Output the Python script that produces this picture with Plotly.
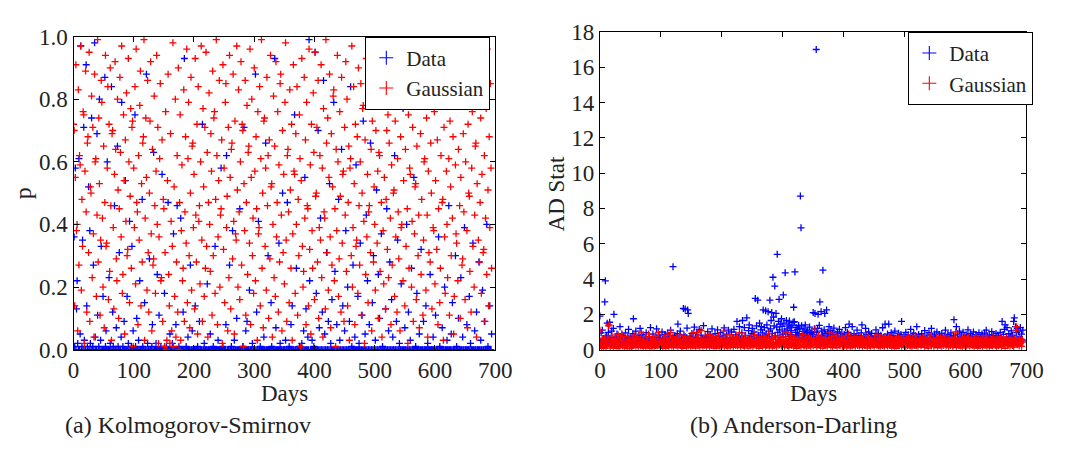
import plotly.graph_objects as go

# Kolmogorov-Smirnov p-values per day (in percent)
ks_data_pct = [
    0, 36, 1, 58, 0, 13, 22, 2, 0, 61, 0, 5, 97, 0, 1, 35, 0, 71, 3, 0, 0, 91, 14, 1, 0,
    52, 0, 38, 2, 0, 74, 0, 1, 27, 0, 98, 4, 0, 0, 69, 11, 0, 1, 80, 0, 3, 33, 0, 0, 17,
    0, 0, 87, 1, 6, 0, 60, 0, 0, 23, 0, 2, 0, 84, 0, 12, 1, 0, 46, 0, 0, 7, 0, 65, 1,
    0, 31, 0, 0, 4, 79, 0, 1, 0, 9, 0, 54, 0, 0, 17, 0, 2, 0, 41, 0, 0, 1, 33, 0, 6,
    0, 0, 75, 1, 0, 10, 0, 0, 3, 0, 22, 0, 0, 0, 48, 1, 0, 0, 15, 0, 0, 88, 0, 2, 0,
    0, 29, 0, 0, 0, 1, 8, 0, 63, 0, 0, 0, 2, 0, 24, 0, 0, 11, 0, 0, 1, 0, 56, 0, 0,
    0, 18, 0, 0, 1, 0, 0, 47, 0, 0, 5, 0, 0, 0, 2, 0, 37, 0, 0, 0, 8, 0, 46, 0, 0,
    1, 0, 0, 42, 0, 0, 0, 12, 0, 93, 0, 0, 1, 0, 0, 4, 0, 0, 0, 27, 0, 0, 6, 0, 0,
    0, 0, 14, 0, 0, 0, 1, 0, 0, 9, 0, 0, 0, 0, 72, 0, 0, 2, 0, 0, 0, 0, 21, 0, 0,
    0, 0, 5, 0, 0, 0, 0, 1, 0, 0, 33, 0, 0, 0, 0, 3, 0, 0, 0, 0, 58, 0, 0, 1, 0,
    0, 0, 0, 8, 62, 0, 0, 0, 0, 27, 0, 0, 1, 0, 38, 0, 0, 3, 0, 0, 0, 10, 0, 0, 0,
    0, 45, 0, 0, 0, 0, 1, 0, 71, 0, 0, 6, 0, 9, 0, 0, 0, 19, 0, 0, 0, 0, 2, 0, 0,
    0, 0, 88, 0, 12, 0, 0, 41, 0, 0, 1, 0, 0, 0, 0, 0, 4, 0, 0, 66, 0, 0, 0, 30, 0,
    0, 0, 0, 15, 1, 0, 0, 0, 0, 93, 0, 7, 0, 0, 0, 0, 34, 0, 2, 0, 0, 0, 50, 0, 0,
    0, 0, 3, 0, 0, 47, 0, 0, 1, 0, 0, 8, 0, 14, 0, 0, 0, 75, 0, 0, 26, 0, 0, 0, 0,
    1, 0, 0, 0, 2, 0, 0, 6, 0, 55, 0, 13, 0, 0, 4, 0, 99, 22, 0, 0, 0, 3, 0, 0, 1,
    0, 95, 0, 18, 0, 0, 70, 0, 7, 0, 42, 0, 0, 12, 0, 86, 0, 5, 0, 0, 31, 0, 0, 9, 0,
    53, 0, 2, 0, 16, 0, 0, 79, 0, 25, 0, 0, 8, 0, 0, 48, 0, 3, 0, 0, 64, 0, 14, 0, 0,
    6, 0, 38, 0, 0, 20, 0, 0, 9, 0, 84, 0, 1, 0, 27, 0, 0, 4, 0, 59, 0, 0, 17, 0, 2,
    0, 34, 0, 0, 11, 0, 73, 0, 0, 5, 0, 43, 0, 22, 0, 0, 8, 0, 66, 0, 0, 15, 0, 30, 0,
    0, 3, 0, 51, 0, 0, 24, 0, 10, 0, 0, 37, 0, 1, 0, 89, 0, 0, 13, 0, 45, 0, 0, 6, 0,
    28, 0, 0, 16, 0, 4, 0, 0, 62, 0, 0, 9, 0, 35, 0, 0, 2, 0, 0, 21, 0, 0, 77, 0, 0,
    7, 0, 0, 40, 0, 0, 12, 0, 0, 3, 0, 26, 0, 0, 0, 55, 0, 0, 1, 0, 18, 0, 0, 0, 5,
    0, 0, 32, 0, 0, 0, 9, 0, 0, 0, 14, 0, 0, 2, 0, 0, 0, 24, 0, 0, 0, 0, 4, 0, 0,
    0, 11, 0, 0, 0, 0, 36, 0, 1, 0, 0, 0, 7, 0, 0, 0, 20, 0, 0, 0, 3, 0, 0, 46, 0,
    0, 0, 5, 0, 15, 0, 0, 0, 0, 30, 0, 1, 0, 0, 10, 0, 0, 0, 23, 0, 0, 4, 0, 0, 39,
    0, 0, 0, 8, 0, 0, 0, 17, 0, 2, 0, 0, 0, 34, 0, 0, 6, 0, 0, 12, 0, 0, 0, 28, 0,
    0, 3, 0, 0, 19, 0, 0, 9, 0, 0, 0, 40, 0, 1, 0, 0, 14, 0, 0, 5,
]

ks_gauss_pct = [
    72, 70, 14, 55, 91, 38, 40, 6, 83, 27, 62, 59, 97, 19, 48, 33, 76, 75, 2, 57, 89, 44, 12, 66, 68,
    31, 95, 9, 52, 50, 81, 23, 71, 37, 4, 88, 60, 61, 17, 43, 99, 28, 74, 53, 11, 35, 86, 79, 42, 20,
    65, 7, 47, 94, 33, 34, 58, 84, 16, 72, 25, 90, 46, 3, 69, 70, 39, 13, 56, 92, 64, 29, 22, 80, 51,
    10, 45, 87, 63, 36, 97, 18, 24, 75, 54, 5, 67, 41, 82, 30, 32, 93, 60, 15, 49, 77, 26, 71, 73, 1,
    58, 39, 84, 21, 96, 47, 44, 8, 62, 35, 78, 89, 14, 53, 28, 66, 68, 99, 3, 42, 74, 55, 19, 86, 31,
    12, 50, 73, 92, 37, 6, 64, 27, 29, 81, 46, 18, 57, 94, 40, 71, 2, 36, 61, 85, 22, 23, 67, 9, 48,
    45, 1, 31, 76, 0, 3, 54, 88, 24, 14, 2, 69, 41, 6, 33, 98, 1, 52, 17, 80, 4, 28, 62, 12, 90,
    0, 47, 75, 3, 38, 59, 22, 26, 83, 9, 44, 68, 34, 96, 15, 61, 79, 30, 7, 50, 87, 19, 65, 66, 39,
    56, 13, 93, 43, 28, 72, 5, 84, 41, 46, 21, 60, 97, 35, 9, 77, 52, 17, 71, 26, 95, 33, 63, 4, 47,
    82, 40, 25, 69, 57, 11, 89, 30, 74, 76, 18, 48, 99, 62, 8, 36, 54, 86, 20, 43, 45, 67, 2, 91, 32,
    58, 15, 79, 85, 39, 49, 6, 71, 23, 94, 55, 13, 64, 66, 29, 88, 41, 5, 73, 37, 35, 97, 51, 20, 83,
    44, 16, 60, 92, 27, 72, 70, 1, 53, 38, 86, 11, 47, 78, 24, 63, 65, 34, 96, 8, 55, 80, 30, 42, 18,
    90, 57, 22, 68, 45, 3, 76, 37, 39, 84, 14, 61, 99, 26, 50, 7, 73, 74, 33, 58, 19, 87, 46, 62, 10,
    67, 29, 94, 52, 53, 4, 40, 81, 23, 65, 17, 92, 36, 47, 76, 12, 59, 28, 85, 88, 43, 6, 70, 31, 56,
    21, 79, 98, 35, 9, 62, 64, 44, 15, 83, 51, 26, 72, 3, 37, 91, 57, 56, 18, 69, 40, 84, 11, 48, 30,
    75, 61, 1, 54, 93, 33, 20, 25, 87, 42, 67, 8, 79, 46, 45, 14, 96, 32, 59, 5, 72, 38, 26, 82, 63,
    16, 95, 49, 50, 71, 28, 86, 10, 39, 62, 35, 91, 23, 58, 4, 77, 44, 42, 13, 99, 66, 31, 74, 19, 55,
    88, 36, 7, 69, 27, 52, 81, 83, 22, 45, 1, 64, 38, 94, 60, 17, 29, 76, 49, 12, 87, 34, 56, 57, 9,
    71, 43, 92, 25, 80, 14, 47, 65, 3, 58, 61, 30, 97, 20, 39, 84, 53, 8, 72, 33, 35, 68, 18, 90, 46,
    27, 60, 85, 11, 50, 77, 78, 41, 2, 67, 24, 93, 36, 56, 15, 44, 46, 82, 31, 64, 6, 73, 89, 28, 52,
    40, 19, 70, 96, 34, 57, 10, 63, 62, 25, 86, 47, 4, 79, 38, 21, 55, 91, 13, 48, 70, 32, 75, 23, 66,
    85, 42, 8, 59, 27, 99, 50, 51, 17, 73, 36, 90, 12, 61, 44, 29, 83, 6, 68, 39, 40, 95, 22, 54, 78,
    14, 64, 33, 87, 45, 2, 75, 26, 58, 56, 92, 20, 41, 71, 9, 80, 37, 52, 53, 16, 65, 97, 30, 43, 7,
    82, 69, 24, 48, 93, 11, 35, 60, 61, 88, 19, 74, 43, 4, 57, 31, 94, 28, 66, 50, 13, 85, 39, 38, 76,
    21, 54, 98, 32, 67, 8, 45, 79, 15, 26, 62, 89, 47, 48, 3, 71, 36, 18, 91, 57, 40, 23, 84, 61, 11,
    73, 52, 30, 95, 42, 68, 5, 17, 86, 59, 37, 34, 78, 22, 64, 97, 46, 10, 55, 81, 27, 29, 69, 44, 90,
    16, 60, 83, 38, 7, 72, 50, 49, 25, 93, 12, 58, 76, 33, 87, 20, 43, 65, 66, 4, 53, 80, 35, 99, 28,
    47, 74, 18, 56, 89, 31, 32, 62, 9, 42, 77, 24, 96, 51, 14, 68, 39, 85, 58, 26,
]

# Anderson-Darling statistic per day (in hundredths)
ad_data_cent = [
    190, 42, 95, 28, 110, 63, 35, 50, 270, 390, 22, 78, 150, 41, 98, 57, 155, 30, 66, 105, 45, 38, 120, 200, 55,
    33, 71, 26, 88, 47, 52, 19, 64, 130, 36, 58, 82, 29, 44, 70, 61, 24, 95, 40, 53, 32, 76, 115, 48, 27,
    66, 39, 57, 21, 90, 175, 45, 31, 72, 105, 35, 60, 43, 26, 80, 54, 120, 38, 49, 68, 23, 85, 46, 34, 62,
    30, 96, 51, 42, 25, 74, 63, 37, 125, 56, 28, 47, 88, 33, 60, 40, 22, 70, 118, 45, 53, 35, 82, 29, 66,
    48, 24, 100, 58, 39, 67, 31, 86, 44, 52, 27, 93, 61, 36, 75, 42, 110, 50, 33, 64, 470, 29, 57, 80, 41,
    55, 36, 90, 145, 28, 62, 47, 105, 34, 70, 52, 25, 233, 83, 44, 230, 38, 61, 122, 225, 205, 49, 30, 76, 58,
    40, 92, 35, 66, 54, 128, 26, 71, 45, 98, 37, 60, 31, 115, 50, 42, 82, 28, 63, 47, 136, 39, 57, 73, 33,
    65, 44, 102, 29, 56, 38, 84, 51, 24, 118, 43, 68, 35, 55, 90, 30, 61, 47, 112, 36, 74, 52, 27, 96, 41,
    59, 32, 78, 48, 123, 37, 64, 26, 88, 53, 42, 110, 34, 70, 45, 28, 100, 57, 39, 66, 115, 31, 50, 84, 46,
    160, 35, 72, 54, 130, 41, 62, 29, 95, 165, 48, 58, 125, 33, 80, 44, 180, 52, 37, 108, 140, 63, 27, 75, 90,
    120, 46, 68, 100, 55, 290, 38, 135, 60, 280, 82, 47, 150, 70, 112, 130, 42, 95, 225, 58, 125, 76, 220, 88, 140,
    64, 215, 105, 75, 280, 118, 165, 210, 92, 410, 185, 135, 360, 78, 205, 128, 540, 98, 160, 285, 112, 145, 70, 175, 132,
    88, 310, 150, 105, 435, 74, 165, 118, 95, 140, 62, 162, 128, 85, 108, 135, 72, 155, 240, 158, 440, 98, 125, 80, 115,
    68, 138, 90, 122, 870, 690, 135, 78, 104, 64, 118, 88, 140, 56, 96, 72, 110, 60, 85, 128, 66, 92, 50, 100, 74,
    210, 86, 118, 205, 62, 1700, 98, 120, 200, 70, 138, 270, 58, 215, 105, 80, 450, 66, 112, 205, 90, 54, 225, 76, 100,
    62, 130, 48, 84, 108, 57, 74, 95, 40, 122, 66, 52, 88, 35, 70, 100, 45, 60, 115, 38, 78, 55, 92, 42, 68,
    50, 86, 33, 125, 61, 44, 97, 28, 72, 145, 39, 58, 81, 47, 130, 36, 64, 90, 30, 52, 75, 41, 110, 56, 34,
    80, 46, 62, 27, 95, 140, 38, 57, 73, 31, 66, 120, 43, 85, 52, 35, 100, 59, 28, 70, 48, 92, 37, 63, 45,
    29, 76, 54, 112, 40, 68, 33, 90, 58, 44, 25, 82, 61, 38, 124, 51, 72, 30, 145, 47, 64, 35, 88, 56, 145,
    42, 70, 26, 96, 53, 37, 80, 62, 31, 105, 46, 58, 39, 74, 28, 93, 51, 65, 34, 86, 160, 43, 60, 30, 77,
    55, 36, 98, 48, 69, 27, 84, 41, 57, 33, 115, 62, 45, 78, 30, 92, 52, 38, 70, 24, 130, 59, 44, 86, 35,
    64, 50, 28, 90, 42, 73, 56, 32, 108, 47, 61, 37, 82, 54, 26, 96, 40, 68, 48, 120, 33, 75, 58, 43, 88,
    31, 66, 52, 100, 39, 57, 27, 84, 46, 70, 35, 92, 60, 44, 28, 78, 53, 110, 37, 64, 49, 86, 30, 72, 56,
    41, 95, 34, 60, 47, 80, 170, 38, 67, 52, 130, 29, 88, 56, 43, 105, 62, 36, 75, 50, 32, 98, 45, 69, 54,
    27, 83, 58, 40, 112, 48, 65, 33, 90, 55, 38, 72, 46, 100, 30, 62, 52, 85, 36, 74, 44, 28, 96, 59, 41,
    70, 35, 88, 51, 63, 29, 94, 45, 57, 110, 39, 76, 53, 32, 84, 48, 66, 25, 102, 58, 42, 80, 37, 61, 50,
    92, 33, 68, 47, 78, 55, 30, 98, 64, 40, 160, 52, 86, 36, 115, 140, 45, 71, 125, 58, 34, 90, 62, 43, 74,
    106, 48, 82, 57, 160, 180, 65, 130, 38, 96, 120, 54, 105, 72, 44, 125, 60, 88, 50, 110,
]

ad_gauss_cent = [
    110, 28, 45, 12, 63, 37, 8, 55, 30, 71, 19, 42, 24, 66, 135, 140, 33, 9, 51, 26, 78, 40, 15, 58, 35,
    22, 61, 44, 7, 38, 85, 27, 50, 14, 69, 33, 90, 20, 47, 56, 11, 31, 74, 42, 25, 5, 60, 36, 48, 18,
    53, 29, 10, 67, 40, 23, 80, 34, 46, 16, 58, 28, 72, 13, 43, 37, 62, 21, 95, 32, 49, 9, 55, 26, 39,
    15, 70, 35, 47, 24, 88, 30, 6, 57, 41, 19, 64, 33, 52, 12, 44, 76, 27, 38, 20, 60, 97, 31, 46, 10,
    42, 25, 59, 17, 36, 68, 48, 22, 8, 54, 30, 83, 39, 14, 62, 28, 98, 45, 19, 35, 73, 11, 50, 32, 57,
    24, 66, 40, 13, 47, 29, 82, 36, 55, 18, 43, 7, 61, 34, 26, 75, 49, 15, 38, 58, 21, 44, 31, 69, 12,
    52, 37, 20, 64, 96, 28, 45, 9, 57, 33, 96, 23, 70, 41, 16, 53, 108, 30, 46, 12, 62, 35, 25, 78, 39,
    18, 56, 43, 27, 86, 11, 49, 32, 65, 21, 38, 74, 14, 54, 30, 45, 8, 60, 36, 23, 80, 42, 17, 51, 33,
    63, 26, 40, 105, 15, 48, 35, 70, 22, 56, 10, 44, 31, 83, 19, 59, 38, 27, 67, 13, 46, 34, 52, 24, 72,
    36, 20, 58, 42, 95, 29, 11, 50, 37, 65, 24, 45, 17, 79, 33, 54, 28, 41, 9, 62, 35, 48, 21, 68, 30,
    44, 14, 57, 26, 84, 39, 52, 19, 72, 32, 47, 8, 61, 36, 25, 55, 42, 16, 75, 29, 50, 37, 12, 64, 23,
    46, 31, 90, 18, 53, 40, 27, 66, 10, 58, 35, 22, 77, 43, 30, 14, 60, 38, 51, 25, 69, 33, 47, 20, 56,
    28, 73, 39, 15, 55, 100, 34, 45, 21, 62, 11, 49, 30, 81, 41, 24, 57, 36, 17, 67, 43, 29, 52, 8, 60,
    33, 48, 22, 70, 38, 14, 59, 27, 86, 44, 19, 53, 32, 65, 10, 46, 35, 75, 24, 57, 40, 16, 63, 29, 50,
    21, 66, 42, 115, 31, 54, 12, 61, 37, 80, 26, 45, 18, 71, 34, 49, 9, 58, 39, 23, 68, 30, 52, 15, 43,
    62, 27, 95, 36, 19, 55, 41, 13, 73, 32, 48, 24, 82, 38, 11, 59, 44, 28, 66, 21, 51, 35, 78, 17, 47,
    30, 57, 22, 69, 40, 14, 53, 33, 88, 26, 45, 10, 63, 37, 20, 56, 29, 74, 42, 16, 50, 34, 67, 24, 44,
    58, 19, 39, 72, 28, 51, 13, 62, 35, 46, 23, 79, 31, 55, 9, 41, 68, 27, 48, 18, 60, 36, 25, 53, 40,
    15, 64, 33, 47, 26, 84, 38, 20, 57, 43, 11, 70, 30, 50, 22, 61, 36, 14, 75, 41, 28, 54, 19, 66, 32,
    49, 24, 71, 37, 12, 58, 29, 45, 18, 63, 34, 8, 53, 40, 27, 74, 21, 47, 35, 60, 16, 42, 31, 69, 25,
    52, 36, 14, 61, 44, 23, 76, 30, 48, 19, 56, 39, 10, 66, 33, 51, 26, 42, 80, 22, 58, 37, 15, 47, 29,
    64, 41, 20, 55, 31, 72, 27, 45, 13, 62, 36, 50, 24, 68, 9, 43, 57, 30, 79, 21, 46, 34, 60, 17, 52,
    38, 26, 67, 44, 11, 56, 32, 49, 22, 73, 40, 16, 59, 35, 25, 63, 47, 78, 19, 42, 29, 54, 14, 65, 37,
    23, 50, 33, 61, 18, 45, 28, 70, 39, 100, 12, 55, 31, 48, 24, 66, 37, 20, 58, 43, 10, 52, 35, 74, 27,
    46, 16, 60, 34, 25, 71, 41, 19, 53, 30, 64, 22, 47, 38, 13, 57, 32, 69, 26, 44, 9, 62, 36, 50, 21,
    56, 29, 43, 15, 67, 35, 52, 24, 78, 40, 18, 59, 33, 46, 11, 63, 27, 54, 38, 20, 71, 42, 30, 57, 25,
    48, 12, 65, 36, 22, 55, 41, 28, 73, 17, 51, 34, 60, 26, 45, 8, 58, 39, 69, 23, 47, 31, 62, 19, 53,
    37, 66, 24, 50, 14, 59, 33, 45, 110, 130, 28, 54, 40, 21, 63, 35, 48, 18, 57, 42,
]

ks_data = [v / 100 for v in ks_data_pct]
ks_gauss = [v / 100 for v in ks_gauss_pct]
ad_data = [v / 100 for v in ad_data_cent]
ad_gauss = [v / 100 for v in ad_gauss_cent]

BLUE = "#0000ff"
RED = "#ff0000"
FONT = "Liberation Serif"
W, H = 1065, 461


def px_x(x):
    return x / W


def px_y(y):
    return 1 - y / H


def marker(color, size=5, width=1.3):
    return dict(symbol="cross-thin", size=size, color=color,
                line=dict(color=color, width=width))


fig = go.Figure()

series = [
    ("x", "y", ks_data, BLUE), ("x", "y", ks_gauss, RED),
    ("x2", "y2", ad_data, BLUE), ("x2", "y2", ad_gauss, RED),
]
for xa, ya, vals, col in series:
    fig.add_trace(go.Scatter(
        x=list(range(len(vals))), y=vals, mode="markers",
        marker=marker(col), xaxis=xa, yaxis=ya, showlegend=False,
        hoverinfo="skip",
    ))

# legend entries (one legend per panel)
for lg, xa, ya in (("legend", "x", "y"), ("legend2", "x2", "y2")):
    for name, col in (("Data", BLUE), ("Gaussian", RED)):
        fig.add_trace(go.Scatter(
            x=[None], y=[None], mode="markers", name=name,
            marker=marker(col, 10, 1.1), xaxis=xa, yaxis=ya, legend=lg,
        ))

axis_common = dict(
    showline=True, linecolor="black", linewidth=1.2, mirror="allticks",
    ticks="inside", ticklen=5, tickwidth=1, tickcolor="black",
    showgrid=False, zeroline=False,
    tickfont=dict(family=FONT, size=23, color="#222"),
)

legend_style = dict(
    xanchor="right", yanchor="top",
    bordercolor="black", borderwidth=1, bgcolor="white",
    font=dict(family=FONT, size=21, color="#222"),
    itemwidth=30, tracegroupgap=0,
)

fig.update_layout(
    width=W, height=H,
    margin=dict(l=0, r=0, t=0, b=0),
    paper_bgcolor="white", plot_bgcolor="white",
    xaxis=dict(domain=[px_x(69), px_x(500)], range=[0, 700], dtick=100,
               anchor="y", **axis_common),
    yaxis=dict(domain=[px_y(357), px_y(26)], range=[0, 1], dtick=0.2,
               tickformat=".1f", anchor="x", **axis_common),
    xaxis2=dict(domain=[px_x(607), px_x(1043)], range=[0, 700], dtick=100,
                anchor="y2", **axis_common),
    yaxis2=dict(domain=[px_y(357), px_y(21)], range=[0, 18], dtick=2,
                anchor="x2", **axis_common),
    legend=dict(x=px_x(495), y=px_y(26), **legend_style),
    legend2=dict(x=px_x(1050), y=px_y(21), **legend_style),
)

texts = [
    ("p", 17, 192, 24, -90),
    ("Days", 285, 403, 23, 0),
    ("AD Stat", 563, 192, 23, -90),
    ("Days", 825, 403, 23, 0),
    ("(a) Kolmogorov-Smirnov", 186, 437, 24, 0),
    ("(b) Anderson-Darling", 805, 437, 24, 0),
]
for txt, x, y, size, ang in texts:
    fig.add_annotation(
        text=txt, x=px_x(x), y=px_y(y), xref="paper", yref="paper",
        xanchor="center", yanchor="middle", showarrow=False, textangle=ang,
        font=dict(family=FONT, size=size, color="#222"),
    )

fig.write_html("out.html")
